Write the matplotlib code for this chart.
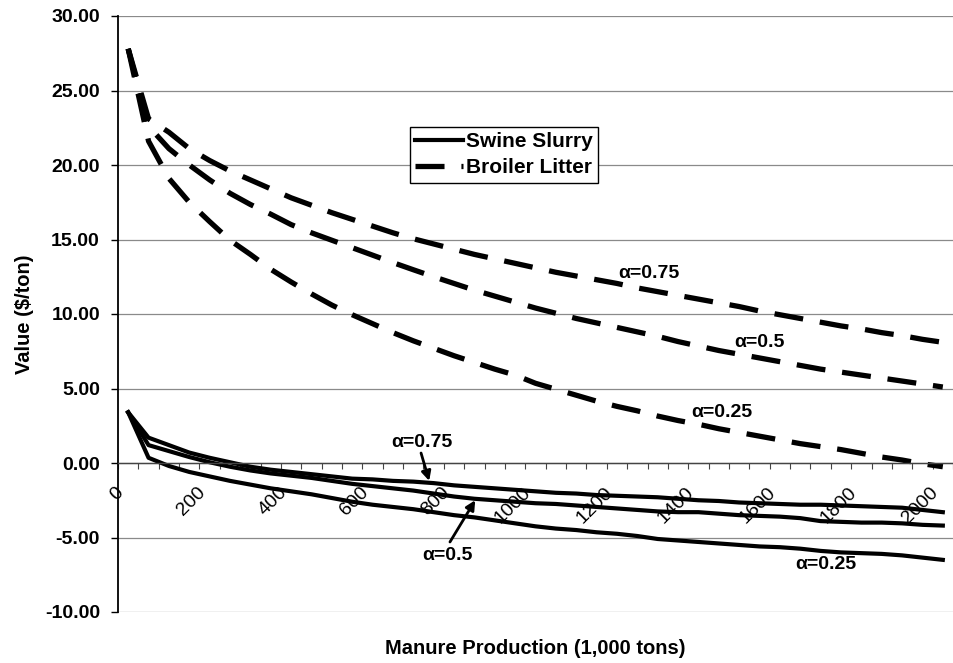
import numpy as np
import matplotlib
matplotlib.use('Agg')
import matplotlib.pyplot as plt
from matplotlib.transforms import ScaledTranslation

plt.rcParams['font.family'] = ['Liberation Sans', 'DejaVu Sans']
plt.rcParams['font.weight'] = 'bold'

# manure production, 1,000 tons (one point per 50)
production = list(range(0, 2001, 50))

# broiler litter, $/ton
broiler_a75 = [27.8, 23.1, 22.2, 21.1, 20.3, 19.6, 19.0, 18.4, 17.8, 17.3, 16.8,
               16.35, 15.9, 15.45, 15.05, 14.7, 14.35, 14.0, 13.7, 13.4, 13.1,
               12.8, 12.55, 12.3, 12.05, 11.75, 11.5, 11.25, 11.0, 10.75, 10.5,
               10.2, 9.95, 9.7, 9.45, 9.2, 9.0, 8.75, 8.55, 8.3, 8.1]
broiler_a50 = [27.8, 22.6, 21.1, 20.0, 19.0, 18.1, 17.35, 16.7, 16.0, 15.45, 14.95,
               14.45, 13.95, 13.45, 12.97, 12.5, 12.05, 11.6, 11.2, 10.8, 10.4,
               10.05, 9.7, 9.4, 9.1, 8.8, 8.5, 8.15, 7.85, 7.55, 7.3,
               7.05, 6.8, 6.55, 6.3, 6.1, 5.9, 5.7, 5.5, 5.3, 5.1]
broiler_a25 = [27.8, 21.6, 19.1, 17.5, 16.2, 14.95, 14.0, 13.0, 12.15, 11.35, 10.6,
               9.95, 9.35, 8.75, 8.2, 7.7, 7.2, 6.75, 6.3, 5.9, 5.35,
               4.95, 4.55, 4.15, 3.8, 3.5, 3.15, 2.85, 2.6, 2.3, 2.05,
               1.8, 1.55, 1.3, 1.1, 0.9, 0.65, 0.4, 0.2, -0.05, -0.25]

# swine slurry, $/ton
swine_a75 = [3.4, 1.7, 1.2, 0.7, 0.35, 0.05, -0.25, -0.45, -0.6, -0.75, -0.9,
             -1.05, -1.1, -1.2, -1.25, -1.35, -1.5, -1.6, -1.7, -1.8, -1.9,
             -2.0, -2.05, -2.15, -2.2, -2.25, -2.3, -2.4, -2.5, -2.55, -2.65,
             -2.7, -2.75, -2.8, -2.8, -2.85, -2.9, -2.95, -3.0, -3.15, -3.3]
swine_a50 = [3.4, 1.2, 0.8, 0.4, 0.05, -0.25, -0.5, -0.7, -0.85, -1.0, -1.2,
             -1.4, -1.55, -1.7, -1.85, -2.05, -2.25, -2.4, -2.5, -2.6, -2.7,
             -2.75, -2.85, -2.95, -3.05, -3.15, -3.25, -3.3, -3.3, -3.4, -3.5,
             -3.55, -3.6, -3.7, -3.9, -3.95, -4.0, -4.0, -4.05, -4.15, -4.2]
swine_a25 = [3.4, 0.35, -0.2, -0.6, -0.9, -1.2, -1.45, -1.7, -1.9, -2.1, -2.35,
             -2.6, -2.8, -2.95, -3.1, -3.3, -3.5, -3.65, -3.85, -4.05, -4.25,
             -4.4, -4.5, -4.65, -4.75, -4.9, -5.1, -5.2, -5.3, -5.4, -5.5,
             -5.6, -5.65, -5.75, -5.9, -6.0, -6.05, -6.1, -6.2, -6.35, -6.5]

xtick_labels = ['0', '200', '400', '600', '800', '1000', '1200', '1400', '1600', '1800', '2000']
yticks = [-10, -5, 0, 5, 10, 15, 20, 25, 30]

fig = plt.figure(figsize=(9.54, 6.63), dpi=100)
ax = fig.add_axes([118 / 954, 51 / 663, 835 / 954, 596 / 663])

dash_kw = dict(color='k', lw=3.8, dashes=(5.5, 3.2), dash_capstyle='butt')
solid_kw = dict(color='k', lw=3.0, solid_joinstyle='round')

ax.plot(production, swine_a75, **solid_kw, label='Swine Slurry')
ax.plot(production, swine_a50, **solid_kw)
ax.plot(production, swine_a25, **solid_kw)
ax.plot(production, broiler_a75, **dash_kw, label='Broiler Litter')
ax.plot(production, broiler_a50, **dash_kw)
ax.plot(production, broiler_a25, **dash_kw)

ax.set_xlim(-25, 2025)
ax.set_ylim(-10, 30)

# horizontal grid, drawn as plain lines so -10 and 30 show too
for yv in yticks:
    ax.axhline(yv, color='#8a8a8a', lw=0.9, zorder=0)

for side in ['top', 'right']:
    ax.spines[side].set_visible(False)
ax.spines['left'].set_linewidth(1.3)
ax.spines['bottom'].set_position(('data', 0))
ax.spines['bottom'].set_color('#444444')
ax.spines['bottom'].set_linewidth(1.0)

ax.set_yticks(yticks)
ax.set_yticklabels(['%.2f' % v for v in yticks], fontsize=14, fontweight='bold')
ax.tick_params(axis='y', direction='out', length=5, width=1, pad=8)

ax.set_xticks([int(t) for t in xtick_labels])
ax.set_xticklabels(xtick_labels, fontsize=14, fontweight='normal', rotation=45,
                   ha='right', va='center', rotation_mode='anchor')
ax.set_xticks(np.arange(-25, 2026, 50), minor=True)
ax.tick_params(axis='x', which='major', length=0, pad=0)
ax.tick_params(axis='x', which='minor', direction='out', length=4, width=0.8, color='#444444')
shift = ScaledTranslation(-7 / 100, -27 / 100, fig.dpi_scale_trans)
for lab in ax.get_xticklabels():
    lab.set_transform(lab.get_transform() + shift)

# curve labels
lab_kw = dict(fontsize=14, fontweight='bold', ha='center', va='center')
ax.text(1279, 12.75, 'α=0.75', **lab_kw)
ax.text(1549, 8.1, 'α=0.5', **lab_kw)
ax.text(1458, 3.4, 'α=0.25', **lab_kw)
ax.text(722, 1.4, 'α=0.75', **lab_kw)
ax.text(783, -6.2, 'α=0.5', **lab_kw)
ax.text(1713, -6.8, 'α=0.25', **lab_kw)
arrow = dict(arrowstyle='-|>', color='k', lw=2, mutation_scale=14, shrinkA=0, shrinkB=0)
ax.annotate('', xy=(739, -1.2), xytext=(719, 0.67), arrowprops=arrow)
ax.annotate('', xy=(852, -2.5), xytext=(790, -5.3), arrowprops=arrow)

leg = ax.legend(loc='upper left', bbox_to_anchor=(0.35, 0.814), borderaxespad=0,
                fancybox=False, edgecolor='k', framealpha=1, fontsize=15,
                handlelength=2.3, handletextpad=0.15, labelspacing=0.35, borderpad=0.25)
leg.get_frame().set_linewidth(1.0)
for t in leg.get_texts():
    t.set_fontweight('bold')

fig.text(535 / 954, 1 - 648 / 663, 'Manure Production (1,000 tons)', ha='center', va='center',
         fontsize=14.5, fontweight='bold')
fig.text(25 / 954, 1 - 314 / 663, 'Value ($/ton)', ha='center', va='center', rotation=90,
         fontsize=14.5, fontweight='bold')

fig.savefig('out.png', dpi=100)
